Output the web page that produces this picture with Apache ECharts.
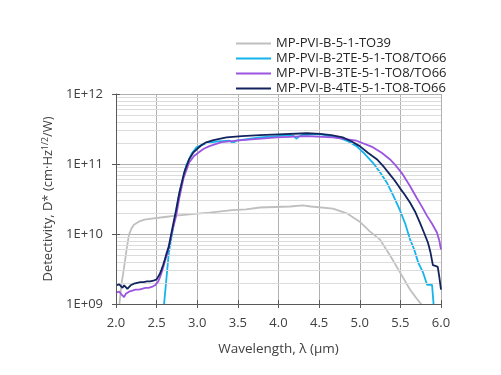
<!DOCTYPE html>
<html>
<head>
<meta charset="utf-8">
<script src="https://cdn.jsdelivr.net/npm/echarts@6/dist/echarts.min.js"></script>
<style>
  html, body { margin: 0; padding: 0; background: #fff; }
  #chart { width: 501px; height: 375px; }
</style>
</head>
<body>
<div id="chart"></div>
<script>
// series names
var names = ['MP-PVI-B-5-1-TO39', 'MP-PVI-B-2TE-5-1-TO8/TO66', 'MP-PVI-B-3TE-5-1-TO8/TO66', 'MP-PVI-B-4TE-5-1-TO8-TO66'];
var colors = ['#bfbfbf', '#14b4ec', '#9b55e0', '#13235e'];

// [wavelength um, D*]
var to39 = [
  [2.04, 0.95e9], [2.07, 2e9], [2.10, 3.4e9], [2.13, 6e9], [2.16, 9.8e9], [2.19, 1.2e10], [2.22, 1.36e10],
  [2.28, 1.5e10], [2.35, 1.6e10], [2.44, 1.66e10], [2.6, 1.75e10], [2.74, 1.83e10], [3.0, 1.95e10],
  [3.15, 2.02e10], [3.43, 2.2e10], [3.6, 2.25e10], [3.62, 2.3e10], [3.77, 2.39e10], [4.14, 2.47e10], [4.30, 2.57e10],
  [4.40, 2.47e10], [4.67, 2.31e10], [4.85, 1.95e10], [5.00, 1.5e10], [5.12, 1.1e10], [5.25, 8.3e9],
  [5.37, 5e9], [5.49, 2.9e9], [5.62, 1.6e9], [5.70, 1.2e9], [5.76, 0.98e9]
];
var te2 = [
  [2.59, 0.95e9], [2.65, 5.4e9], [2.72, 1.6e10], [2.78, 3.9e10], [2.86, 9.3e10], [2.93, 1.4e11], [2.99, 1.73e11],
  [3.11, 1.99e11], [3.25, 2.1e11], [3.40, 2.15e11], [3.44, 2.0e11], [3.48, 2.15e11], [3.77, 2.4e11],
  [4.14, 2.58e11], [4.19, 2.5e11], [4.22, 2.3e11], [4.26, 2.5e11], [4.30, 2.6e11], [4.51, 2.67e11],
  [4.75, 2.35e11], [4.86, 2.1e11], [4.96, 1.8e11], [5.06, 1.4e11], [5.16, 1.05e11], [5.25, 7.6e10],
  [5.33, 5.5e10], [5.41, 3.6e10], [5.49, 2.25e10], [5.56, 1.4e10], [5.62, 8.3e9], [5.67, 6e9],
  [5.72, 3.9e9], [5.78, 2.8e9], [5.83, 1.87e9], [5.89, 1.87e9], [5.91, 0.95e9]
];
var te3 = [
  [2.00, 1.45e9], [2.02, 1.4e9], [2.04, 1.5e9], [2.06, 1.4e9], [2.08, 1.35e9], [2.10, 1.25e9], [2.12, 1.4e9],
  [2.14, 1.35e9], [2.16, 1.5e9], [2.18, 1.45e9], [2.20, 1.55e9], [2.22, 1.5e9], [2.24, 1.6e9], [2.26, 1.55e9],
  [2.28, 1.6e9], [2.30, 1.55e9], [2.32, 1.65e9], [2.34, 1.6e9], [2.36, 1.7e9], [2.38, 1.65e9], [2.40, 1.7e9],
  [2.42, 1.65e9], [2.44, 1.75e9], [2.46, 1.75e9], [2.48, 1.85e9], [2.50, 1.95e9], [2.52, 2.1e9], [2.54, 2.4e9],
  [2.56, 2.8e9], [2.58, 3.3e9], [2.60, 4.0e9], [2.63, 5.2e9], [2.66, 7.5e9], [2.70, 1.2e10], [2.74, 1.8e10],
  [2.78, 3.3e10], [2.83, 6.2e10], [2.90, 1.05e11], [2.96, 1.3e11], [3.02, 1.47e11], [3.08, 1.65e11],
  [3.15, 1.8e11], [3.3, 2.05e11], [3.55, 2.2e11], [3.98, 2.4e11], [4.35, 2.5e11], [4.67, 2.4e11],
  [4.96, 2.15e11], [5.16, 1.74e11], [5.27, 1.45e11], [5.37, 1.17e11], [5.45, 9.3e10], [5.53, 7.1e10],
  [5.62, 4.8e10], [5.70, 3.3e10], [5.77, 2.4e10], [5.83, 1.8e10], [5.89, 1.4e10], [5.95, 1.05e10],
  [5.98, 8e9], [6.0, 6e9]
];
var te4 = [
  [2.00, 1.85e9], [2.02, 1.75e9], [2.04, 1.9e9], [2.06, 1.8e9], [2.08, 1.7e9], [2.10, 1.85e9], [2.12, 1.75e9],
  [2.14, 1.65e9], [2.16, 1.7e9], [2.18, 1.85e9], [2.20, 1.8e9], [2.22, 1.95e9], [2.24, 1.85e9], [2.26, 2.0e9],
  [2.28, 1.9e9], [2.30, 2.05e9], [2.32, 1.95e9], [2.34, 2.05e9], [2.36, 1.95e9], [2.38, 2.1e9], [2.40, 2.0e9],
  [2.42, 2.1e9], [2.44, 2.05e9], [2.46, 2.15e9], [2.48, 2.1e9], [2.50, 2.25e9], [2.52, 2.4e9], [2.54, 2.7e9],
  [2.56, 3.1e9], [2.58, 3.6e9], [2.60, 4.3e9], [2.62, 5.2e9], [2.65, 6.6e9], [2.69, 1.15e10], [2.74, 2.2e10],
  [2.78, 3.9e10], [2.84, 7.6e10], [2.90, 1.17e11], [2.95, 1.45e11], [3.00, 1.65e11], [3.05, 1.85e11],
  [3.11, 2.04e11], [3.2, 2.2e11], [3.36, 2.4e11], [3.55, 2.5e11], [3.77, 2.58e11], [4.0, 2.65e11],
  [4.35, 2.75e11], [4.51, 2.7e11], [4.65, 2.58e11], [4.79, 2.4e11], [4.9, 2.1e11], [5.0, 1.8e11],
  [5.1, 1.45e11], [5.21, 1.17e11], [5.3, 9e10], [5.37, 7.1e10], [5.43, 5.8e10], [5.49, 4.6e10],
  [5.55, 3.7e10], [5.62, 2.8e10], [5.68, 2.1e10], [5.74, 1.45e10], [5.79, 1.05e10], [5.84, 7.5e9],
  [5.87, 5.5e9], [5.90, 3.6e9], [5.93, 3.5e9], [5.96, 3.4e9], [5.98, 2.4e9], [6.0, 1.6e9]
];

// log minor gridlines
var minorGrid = [2e9, 3e9, 4e9, 5e9, 6e9, 7e9, 8e9, 9e9,
                 2e10, 3e10, 4e10, 5e10, 6e10, 7e10, 8e10, 9e10,
                 2e11, 3e11, 4e11, 5e11, 6e11, 7e11, 8e11, 9e11];

var myChart = echarts.init(document.getElementById('chart'));

var font = '"Open Sans", "Noto Sans", sans-serif';
var allData = [to39, te2, te3, te4];

var series = [{
  name: 'grid',
  type: 'line',
  data: [[2, 1e9]],
  showSymbol: false,
  lineStyle: { opacity: 0 },
  silent: true,
  z: 1,
  markLine: {
    silent: true,
    symbol: ['none', 'none'],
    label: { show: false },
    lineStyle: { color: '#dcdcdc', width: 1, type: 'solid' },
    data: minorGrid.map(function (v) { return { yAxis: v }; })
  }
}];
for (var i = 0; i < names.length; i++) {
  series.push({
    name: names[i],
    type: 'line',
    data: allData[i],
    showSymbol: false,
    symbol: 'none',
    z: 3 + i,
    lineStyle: { color: colors[i], width: 1.8 },
    itemStyle: { color: colors[i] }
  });
}

var option = {
  backgroundColor: '#fff',
  animation: false,
  textStyle: { fontFamily: font },
  grid: { left: 116, right: 60, top: 94, bottom: 71 },
  legend: {
    orient: 'vertical',
    left: 231,
    top: 32,
    data: names,
    icon: 'rect',
    itemWidth: 35,
    itemHeight: 2,
    itemGap: 2,
    textStyle: { fontSize: 13, color: '#262626', fontFamily: font, lineHeight: 12 }
  },
  xAxis: [{
    type: 'value',
    min: 2,
    max: 6,
    interval: 0.5,
    z: 0,
    name: 'Wavelength, λ (µm)',
    nameLocation: 'middle',
    nameGap: 38,
    nameTextStyle: { fontSize: 13.5, color: '#404040' },
    axisLine: { show: false },
    axisTick: { show: true, length: 4, lineStyle: { color: '#595959' } },
    axisLabel: {
      fontSize: 13, color: '#404040', margin: 13,
      formatter: function (v) { return v.toFixed(1); }
    },
    splitLine: { show: true, lineStyle: { color: '#b0b0b0', width: 1 } }
  }, {
    type: 'value',
    min: 2,
    max: 6,
    interval: 0.5,
    position: 'bottom',
    z: 10,
    axisLine: { show: true, lineStyle: { color: '#595959', width: 1 } },
    axisTick: { show: true, inside: true, length: 4, lineStyle: { color: '#595959' } },
    axisLabel: { show: false },
    splitLine: { show: false }
  }],
  yAxis: [{
    type: 'log',
    logBase: 10,
    min: 1e9,
    max: 1e12,
    z: 0,
    name: '{n|Detectivity, D* (cm·Hz}{s|1/2}{n|/W)}',
    nameLocation: 'middle',
    nameGap: 57,
    nameTextStyle: {
      rich: {
        n: { fontSize: 13, color: '#404040', fontFamily: font },
        s: { fontSize: 8.5, color: '#404040', fontFamily: font, verticalAlign: 'top', padding: [0, 0, 6, 0] }
      }
    },
    axisLine: { show: false },
    axisTick: { show: true, length: 4, lineStyle: { color: '#595959' } },
    axisLabel: {
      fontSize: 13, color: '#404040', margin: 13,
      formatter: function (v) {
        var e = Math.round(Math.log10(v));
        return '1E+' + (e < 10 ? '0' : '') + e;
      }
    },
    splitLine: { show: true, lineStyle: { color: '#b0b0b0', width: 1 } }
  }, {
    type: 'log',
    logBase: 10,
    min: 1e9,
    max: 1e12,
    position: 'left',
    z: 10,
    axisLine: { show: true, lineStyle: { color: '#595959', width: 1 } },
    axisTick: { show: true, inside: true, length: 4, lineStyle: { color: '#595959' } },
    axisLabel: { show: false },
    splitLine: { show: false }
  }],
  series: series
};

myChart.setOption(option);
</script>
</body>
</html>
